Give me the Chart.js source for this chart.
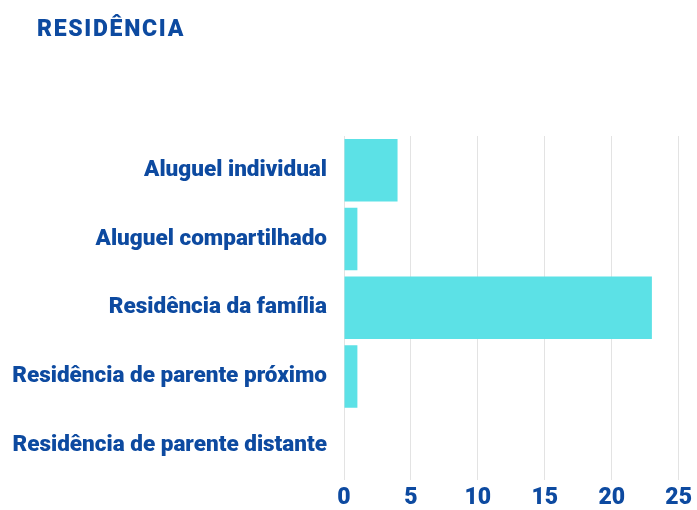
<!DOCTYPE html>
<html>
<head>
<meta charset="utf-8">
<script src="https://cdn.jsdelivr.net/npm/chart.js@4"></script>
<style>
  html, body { margin: 0; padding: 0; background: #fff; }
  #wrap { position: relative; width: 697px; height: 510px; }
  #title { position: absolute; left: 37px; top: 15px; font-family: Roboto, sans-serif; font-weight: 900; font-size: 23px; color: #0D4AA0; letter-spacing: 1.7px; margin: 0; }
  canvas { position: absolute; left: 0; top: 0; }
</style>
</head>
<body>
<div id="wrap">
  <canvas id="c" width="697" height="510"></canvas>
  <h1 id="title">RESIDÊNCIA</h1>
</div>
<script>
const categories = ["Aluguel individual", "Aluguel compartilhado", "Residência da família", "Residência de parente próximo", "Residência de parente distante"];
const counts = [4, 1, 23, 1, 0];
const xTicks = [0, 5, 10, 15, 20, 25];

const blue = '#0D4AA0';
new Chart(document.getElementById('c'), {
  type: 'bar',
  data: {
    labels: categories,
    datasets: [{
      data: counts,
      backgroundColor: '#5CE1E6',
      barPercentage: 0.91,
      categoryPercentage: 1.0
    }]
  },
  options: {
    indexAxis: 'y',
    responsive: false,
    animation: false,
    layout: { padding: { top: 136, right: 17, left: 0, bottom: 0 } },
    plugins: { legend: { display: false }, tooltip: { enabled: false } },
    scales: {
      x: {
        min: 0, max: 25,
        afterBuildTicks: (s) => { s.ticks = xTicks.map(v => ({ value: v })); },
        afterFit: (s) => { s.height = 29; },
        grid: { color: '#e3e3e3', drawTicks: false },
        border: { display: false },
        ticks: { padding: 5, color: blue, font: { family: 'Roboto', weight: '900', size: 23 } }
      },
      y: {
        afterFit: (s) => { s.width = 344; },
        grid: { display: false, drawTicks: false },
        border: { display: false },
        ticks: { padding: 17, color: blue, font: { family: 'Roboto', weight: '900', size: 22.5 } }
      }
    }
  }
});
</script>
</body>
</html>
